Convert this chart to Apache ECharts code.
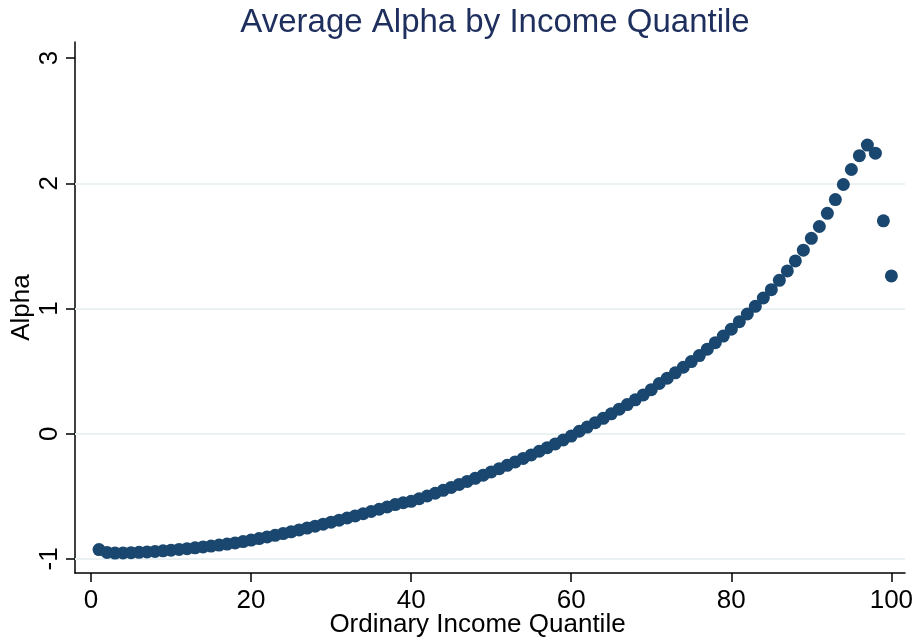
<!DOCTYPE html>
<html>
<head>
<meta charset="utf-8">
<script src="https://cdn.jsdelivr.net/npm/echarts@6/dist/echarts.min.js"></script>
<style>html,body{margin:0;padding:0;background:#fff}#c{width:914px;height:640px}</style>
</head>
<body>
<div id="c"></div>
<script>
const quantiles = Array.from({length: 100}, (_, i) => i + 1);
const alphaValues = [
  -0.925, -0.948, -0.953, -0.952, -0.950, -0.947, -0.944, -0.940, -0.935, -0.930,
  -0.924, -0.918, -0.911, -0.904, -0.897, -0.889, -0.881, -0.872, -0.861, -0.849,
  -0.837, -0.824, -0.811, -0.797, -0.783, -0.768, -0.753, -0.738, -0.722, -0.706,
  -0.690, -0.673, -0.656, -0.639, -0.621, -0.603, -0.585, -0.566, -0.551, -0.540,
  -0.519, -0.497, -0.475, -0.452, -0.429, -0.405, -0.381, -0.356, -0.331, -0.305,
  -0.279, -0.252, -0.225, -0.197, -0.169, -0.140, -0.111, -0.081, -0.050, -0.019,
   0.020,  0.053,  0.088,  0.123,  0.159,  0.196,  0.233,  0.271,  0.310,  0.352,
   0.401,  0.444,  0.486,  0.531,  0.576,  0.624,  0.675,  0.727,  0.780,  0.835,
   0.895,  0.956,  1.017,  1.084,  1.150,  1.225,  1.300,  1.380,  1.466,  1.560,
   1.655,  1.760,  1.870,  1.990,  2.110,  2.220,  2.305,  2.240,  1.700,  1.260
];
const xTicks = [0, 20, 40, 60, 80, 100];
const yTicks = [-1, 0, 1, 2, 3];
const gridValues = [-1, 0, 1, 2];

const FONT = "'Liberation Sans', Arial, Helvetica, sans-serif";
const chart = echarts.init(document.getElementById('c'), null, {renderer: 'canvas'});
chart.setOption({
  animation: false,
  backgroundColor: '#ffffff',
  title: {
    text: 'Average Alpha by Income Quantile',
    left: 490, textAlign: 'center', top: 1,
    textStyle: {fontFamily: FONT, fontSize: 33, fontWeight: 'normal', color: '#1e2f5e'}
  },
  grid: {left: 75, right: 9, top: 42, bottom: 67, containLabel: false, outerBoundsMode: 'none'},
  xAxis: {
    type: 'value', min: -2, max: 101.7,
    name: 'Ordinary Income Quantile', nameLocation: 'middle', nameGap: 39, nameMoveOverlap: false,
    nameTextStyle: {fontFamily: FONT, fontSize: 26, color: '#000', padding: [0, 25, 0, 0]},
    axisLine: {show: true, onZero: false, lineStyle: {color: '#000', width: 1.5}},
    axisTick: {show: true, length: 9, customValues: xTicks, lineStyle: {color: '#000', width: 1.5}},
    axisLabel: {customValues: xTicks, fontFamily: FONT, fontSize: 26, color: '#000', margin: 15},
    splitLine: {show: false}
  },
  yAxis: {
    type: 'value', min: -1.112, max: 3.128,
    name: 'Alpha', nameLocation: 'middle', nameGap: 40, nameRotate: 90, nameMoveOverlap: false,
    nameTextStyle: {fontFamily: FONT, fontSize: 26, color: '#000'},
    axisLine: {show: true, onZero: false, lineStyle: {color: '#000', width: 1.5}},
    axisTick: {show: true, length: 9, customValues: yTicks, lineStyle: {color: '#000', width: 1.5}},
    axisLabel: {customValues: yTicks, rotate: 90, fontFamily: FONT, fontSize: 26, color: '#000', margin: 12},
    splitLine: {show: false}
  },
  series: [
    {
      type: 'line', data: [], z: 1, silent: true,
      markLine: {
        silent: true, symbol: 'none', animation: false,
        label: {show: false},
        lineStyle: {color: '#eaf1f3', width: 2, type: 'solid'},
        data: gridValues.map(v => ({yAxis: v}))
      }
    },
    {
      type: 'scatter', z: 3, zlevel: 1,
      symbol: 'circle', symbolSize: 13,
      itemStyle: {color: '#1a476f', opacity: 1},
      data: quantiles.map((q, i) => [q, alphaValues[i]])
    }
  ]
});
</script>
</body>
</html>
